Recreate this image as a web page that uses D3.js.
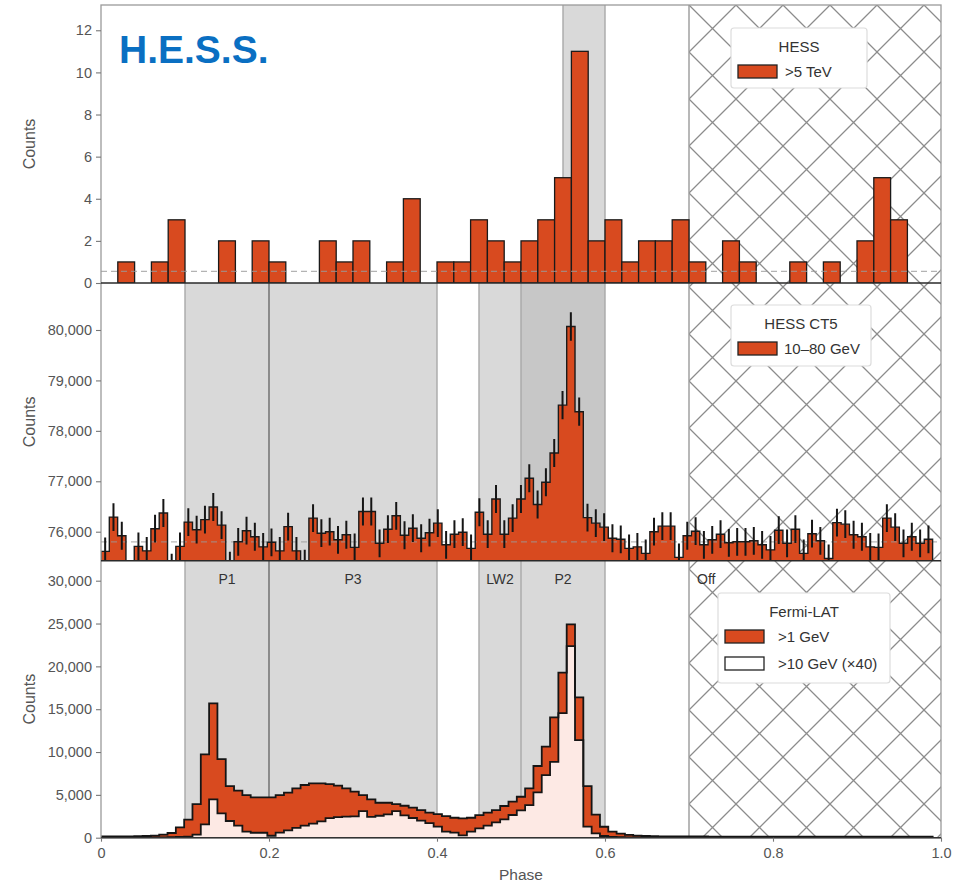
<!DOCTYPE html>
<html>
<head>
<meta charset="utf-8">
<script src="https://cdn.jsdelivr.net/npm/d3@7"></script>
<style>
  body { margin: 0; background: #fff; }
  svg text { font-family: "Liberation Sans", Arial, sans-serif; }
</style>
</head>
<body>
<svg id="chart" width="972" height="882"></svg>
<script>
// ---------------- data ----------------
// H.E.S.S. >5 TeV events, 50 phase bins of 0.02
const hessBinWidth = 0.02;
const hessCounts = [0,1,0,1,3,0,0,2,0,2, 1,0,0,2,1,2,0,1,4,0,
                    1,1,3,2,1,2,3,5,11,2, 3,1,2,2,3,1,0,2,1,0,
                    0,1,0,1,0,2,5,3,0,0];
const hessBackground = 0.55;

// CT5 10-80 GeV and Fermi-LAT, 100 phase bins
const fineBinWidth = 0.0099;
const ct5Counts = [
  75610,76290,75920,75100,75710,75620,76060,76370,75290,75710,
  76190,76040,76240,76490,76130,75330,75800,76020,75900,75700,
  75790,75620,76100,75620,75370,76270,75970,76000,75840,75940,
  75690,76400,76400,75770,76050,76315,75930,76070,75870,75980,
  76170,75740,75950,75990,75670,76385,75950,76650,75950,76270,
  76650,77060,76540,76980,77560,78510,80070,78380,76280,76170,
  76090,75870,75850,75670,75700,75570,76000,76110,76110,75490,
  75920,76010,75740,75840,75950,75780,75800,75800,75820,75740,
  75640,76030,75770,76050,75570,75960,75820,75470,76180,76150,
  75940,75900,75700,75690,76270,76090,75770,75900,75770,75850];
const ct5Background = 75800;

const fermiAbove1GeV = [
  150,140,140,150,170,200,250,350,550,1200,
  2100,3930,9730,15680,9180,6030,5490,4980,4710,4710,
  4710,4980,5250,5760,6150,6340,6340,6260,6070,5760,
  5370,4980,4470,4080,4080,3930,3730,3500,3230,2920,
  2760,2530,2330,2260,2330,2640,2920,3230,3700,4200,
  4780,5760,8370,10630,14050,19260,24900,16380,6030,2700,
  1280,700,470,320,250,200,180,160,150,150,
  140,140,140,130,130,130,130,130,130,130,
  130,130,130,130,130,130,130,130,130,130,
  130,130,130,130,130,130,130,130,130,130];
const fermiAbove10GeVx40 = [
  20,20,20,20,20,30,30,40,50,80,
  120,350,1560,4480,2850,1950,1400,700,580,580,
  230,600,850,1150,1400,1650,1900,2280,2400,2450,
  2500,3100,2420,2560,2730,3100,2600,2300,2000,1700,
  1290,700,590,280,700,1100,1400,1780,2150,2650,
  3200,3800,5300,7300,8850,14550,22370,11400,1300,500,
  200,100,60,40,30,30,20,20,20,20,
  20,20,20,20,20,20,20,20,20,20,
  20,20,20,20,20,20,20,20,20,20,
  20,20,20,20,20,20,20,20,20,20];

// phase windows
const onRegionNames = ["P1", "P3", "LW2", "P2"];
const onRegionStart = [0.1, 0.2, 0.45, 0.5];
const onRegionEnd   = [0.2, 0.4, 0.5, 0.6];
const hessWindow = [0.55, 0.6];
const offRegion = [0.7, 1.0];

// axis ticks
const phaseTicks = [0, 0.2, 0.4, 0.6, 0.8, 1.0];
const hessTicks = [0, 2, 4, 6, 8, 10, 12];
const ct5Ticks = [76000, 77000, 78000, 79000, 80000];
const fermiTicks = [0, 5000, 10000, 15000, 20000, 25000, 30000];

// ---------------- drawing ----------------
const RED = "#d84a1f", PINK = "#fde9e4", GREY = "#d9d9d9", DARKGREY = "#c7c7c7";
const svg = d3.select("#chart");
const x = d3.scaleLinear().domain([0, 1]).range([101, 941]);

const panels = [
  { key: "top", y: d3.scaleLinear().domain([0, 13.2]).range([283, 5]) },
  { key: "mid", y: d3.scaleLinear().domain([75425, 80932]).range([560.7, 283]) },
  { key: "bot", y: d3.scaleLinear().domain([0, 32334]).range([837.7, 560.7]) }
];
const P = Object.fromEntries(panels.map(p => [p.key, p]));
panels.forEach(p => { p.top = p.y.range()[1]; p.bottom = p.y.range()[0]; });

const defs = svg.append("defs");
panels.forEach(p => {
  defs.append("clipPath").attr("id", "clip-" + p.key)
    .append("rect").attr("x", x(0)).attr("y", p.top)
    .attr("width", x(1) - x(0)).attr("height", p.bottom - p.top);
});
const hatch = defs.append("pattern").attr("id", "hatch")
  .attr("patternUnits", "userSpaceOnUse")
  .attr("width", 47).attr("height", 47)
  .attr("x", x(offRegion[0])).attr("y", 5);
hatch.append("path").attr("d", "M0,0L47,47M47,0L0,47M-1,46L1,48M46,-1L48,1")
  .attr("stroke", "#8c8c8c").attr("stroke-width", 1.3).attr("fill", "none");

// shaded on-phase windows
const bg = svg.append("g");
["mid", "bot"].forEach(k => {
  const p = P[k];
  onRegionNames.forEach((n, i) => {
    bg.append("rect")
      .attr("x", x(onRegionStart[i])).attr("width", x(onRegionEnd[i]) - x(onRegionStart[i]))
      .attr("y", p.top).attr("height", p.bottom - p.top)
      .attr("fill", (k === "mid" && n === "P2") ? DARKGREY : GREY);
  });
});
bg.append("rect")
  .attr("x", x(hessWindow[0])).attr("width", x(hessWindow[1]) - x(hessWindow[0]))
  .attr("y", P.top.top).attr("height", P.top.bottom - P.top.top).attr("fill", GREY);

// off-phase hatching across all panels
bg.append("rect")
  .attr("x", x(offRegion[0])).attr("width", x(offRegion[1]) - x(offRegion[0]))
  .attr("y", P.top.top).attr("height", P.bot.bottom - P.top.top)
  .attr("fill", "url(#hatch)");

// window edges
const edges = Array.from(new Set(onRegionStart.concat(onRegionEnd)));
edges.forEach(e => {
  bg.append("line").attr("x1", x(e)).attr("x2", x(e))
    .attr("y1", P.mid.top).attr("y2", P.bot.bottom)
    .attr("stroke", e === 0.2 ? "#6a6a6a" : "#a8a8a8").attr("stroke-width", 1.4);
});
hessWindow.forEach(e => {
  bg.append("line").attr("x1", x(e)).attr("x2", x(e))
    .attr("y1", P.top.top).attr("y2", P.top.bottom)
    .attr("stroke", "#a8a8a8").attr("stroke-width", 1.4);
});
bg.append("line").attr("x1", x(offRegion[0])).attr("x2", x(offRegion[0]))
  .attr("y1", P.top.top).attr("y2", P.bot.bottom)
  .attr("stroke", "#9a9a9a").attr("stroke-width", 1.4);

// ---- top panel: H.E.S.S. >5 TeV bars ----
const gTop = svg.append("g").attr("clip-path", "url(#clip-top)");
gTop.selectAll("rect.bar").data(hessCounts.map((v, i) => ({ v, i })).filter(d => d.v > 0))
  .join("rect").attr("class", "bar")
  .attr("x", d => x(d.i * hessBinWidth)).attr("width", x(hessBinWidth) - x(0))
  .attr("y", d => P.top.y(d.v)).attr("height", d => P.top.y(0) - P.top.y(d.v))
  .attr("fill", RED).attr("stroke", "#1a1a1a").attr("stroke-width", 1.3);
gTop.append("line")
  .attr("x1", x(0)).attr("x2", x(1))
  .attr("y1", P.top.y(hessBackground)).attr("y2", P.top.y(hessBackground))
  .attr("stroke", "#9a9a9a").attr("stroke-opacity", 0.75)
  .attr("stroke-width", 1.4).attr("stroke-dasharray", "6,4");

// step helpers
function stepData(arr) {
  const d = arr.map((v, i) => ({ e: i * fineBinWidth, v }));
  d.push({ e: arr.length * fineBinWidth, v: arr[arr.length - 1] });
  return d;
}
function stepArea(p) {
  return d3.area().curve(d3.curveStepAfter)
    .x(d => x(d.e)).y0(p.bottom + 2).y1(d => p.y(d.v));
}
function stepOutline(p, arr) {
  const d = stepData(arr);
  const line = d3.line().curve(d3.curveStepAfter).x(q => x(q.e)).y(q => p.y(q.v));
  const last = d[d.length - 1];
  return "M" + x(0) + "," + (p.bottom + 2) + "L" + line(d).slice(1) + "L" + x(last.e) + "," + (p.bottom + 2);
}

// ---- middle panel: CT5 10-80 GeV ----
const gMid = svg.append("g").attr("clip-path", "url(#clip-mid)");
gMid.append("path").datum(stepData(ct5Counts)).attr("d", stepArea(P.mid)).attr("fill", RED);
gMid.append("line")
  .attr("x1", x(0)).attr("x2", x(1))
  .attr("y1", P.mid.y(ct5Background)).attr("y2", P.mid.y(ct5Background))
  .attr("stroke", "#9a9a9a").attr("stroke-opacity", 0.7)
  .attr("stroke-width", 1.2).attr("stroke-dasharray", "6,4");
gMid.append("path").attr("d", stepOutline(P.mid, ct5Counts))
  .attr("fill", "none").attr("stroke", "#1a1a1a").attr("stroke-width", 1.4);
gMid.selectAll("line.err").data(ct5Counts.map((v, i) => ({ v, i })))
  .join("line").attr("class", "err")
  .attr("x1", d => x((d.i + 0.5) * fineBinWidth)).attr("x2", d => x((d.i + 0.5) * fineBinWidth))
  .attr("y1", d => P.mid.y(d.v - Math.sqrt(d.v))).attr("y2", d => P.mid.y(d.v + Math.sqrt(d.v)))
  .attr("stroke", "#151515").attr("stroke-width", 2);

// ---- bottom panel: Fermi-LAT ----
const gBot = svg.append("g").attr("clip-path", "url(#clip-bot)");
gBot.append("path").datum(stepData(fermiAbove1GeV)).attr("d", stepArea(P.bot)).attr("fill", RED);
gBot.append("path").datum(stepData(fermiAbove10GeVx40)).attr("d", stepArea(P.bot)).attr("fill", PINK);
gBot.append("path").attr("d", stepOutline(P.bot, fermiAbove1GeV))
  .attr("fill", "none").attr("stroke", "#151515").attr("stroke-width", 1.8);
gBot.append("path").attr("d", stepOutline(P.bot, fermiAbove10GeVx40))
  .attr("fill", "none").attr("stroke", "#151515").attr("stroke-width", 1.8);

// ---- frame and axes ----
const frame = svg.append("g");
frame.append("rect").attr("x", x(0)).attr("y", P.top.top)
  .attr("width", x(1) - x(0)).attr("height", P.bot.bottom - P.top.top)
  .attr("fill", "none").attr("stroke", "#9a9a9a").attr("stroke-width", 1.3);
[P.top.bottom, P.mid.bottom].forEach(yy => {
  frame.append("line").attr("x1", x(0)).attr("x2", x(1)).attr("y1", yy).attr("y2", yy)
    .attr("stroke", "#2a2a2a").attr("stroke-width", 1.5);
});
frame.append("line").attr("x1", x(0)).attr("x2", x(1))
  .attr("y1", P.bot.bottom).attr("y2", P.bot.bottom)
  .attr("stroke", "#333").attr("stroke-width", 1.5);

function styleAxis(g) {
  g.select(".domain").remove();
  g.selectAll(".tick line").attr("stroke", "#777").attr("stroke-width", 1.1);
  g.selectAll(".tick text").attr("fill", "#555").attr("font-size", 14.5);
}
const fmt = d3.format(",");
svg.append("g").attr("transform", `translate(${x(0)},0)`)
  .call(d3.axisLeft(P.top.y).tickValues(hessTicks).tickSize(5).tickPadding(4).tickFormat(fmt)).call(styleAxis);
svg.append("g").attr("transform", `translate(${x(0)},0)`)
  .call(d3.axisLeft(P.mid.y).tickValues(ct5Ticks).tickSize(5).tickPadding(4).tickFormat(fmt)).call(styleAxis);
svg.append("g").attr("transform", `translate(${x(0)},0)`)
  .call(d3.axisLeft(P.bot.y).tickValues(fermiTicks).tickSize(5).tickPadding(4).tickFormat(fmt)).call(styleAxis);
svg.append("g").attr("transform", `translate(0,${P.bot.bottom})`)
  .call(d3.axisBottom(x).tickValues(phaseTicks).tickSize(4).tickPadding(6)
    .tickFormat(d => d === 0 ? "0" : d3.format(".1f")(d))).call(styleAxis);

// axis titles
panels.forEach(p => {
  svg.append("text")
    .attr("transform", `translate(35,${(p.top + p.bottom) / 2}) rotate(-90)`)
    .attr("text-anchor", "middle").attr("fill", "#555").attr("font-size", 16)
    .text("Counts");
});
svg.append("text").attr("x", (x(0) + x(1)) / 2).attr("y", 880)
  .attr("text-anchor", "middle").attr("fill", "#555").attr("font-size", 15.5).text("Phase");

// window labels
onRegionNames.forEach((n, i) => {
  svg.append("text").attr("x", x((onRegionStart[i] + onRegionEnd[i]) / 2)).attr("y", 584)
    .attr("text-anchor", "middle").attr("fill", "#333").attr("font-size", 14).text(n);
});
svg.append("text").attr("x", x(offRegion[0]) + 8).attr("y", 584)
  .attr("fill", "#333").attr("font-size", 14).text("Off");

// ---- legends ----
function legend(box, title, entries) {
  const g = svg.append("g");
  g.append("rect").attr("x", box.x).attr("y", box.y).attr("width", box.w).attr("height", box.h)
    .attr("rx", 3).attr("fill", "#fff").attr("stroke", "#dcdcdc").attr("stroke-width", 1.2);
  g.append("text").attr("x", box.x + box.w / 2).attr("y", box.y + 24)
    .attr("text-anchor", "middle").attr("fill", "#333").attr("font-size", 15).text(title);
  entries.forEach((e, i) => {
    const yy = box.y + 37 + i * 27;
    g.append("rect").attr("x", box.x + 7).attr("y", yy).attr("width", 39).attr("height", 13)
      .attr("fill", e.fill).attr("stroke", "#222").attr("stroke-width", 1.3);
    g.append("text").attr("x", box.x + e.tx).attr("y", yy + 12)
      .attr("fill", "#333").attr("font-size", 15).text(e.label);
  });
}
legend({ x: 731, y: 28, w: 136, h: 60 }, "HESS", [{ fill: RED, label: ">5 TeV", tx: 54 }]);
legend({ x: 731, y: 305, w: 140, h: 61 }, "HESS CT5", [{ fill: RED, label: "10\u201380 GeV", tx: 53 }]);
legend({ x: 718, y: 593, w: 172, h: 90 }, "Fermi-LAT", [
  { fill: RED, label: ">1 GeV", tx: 60 },
  { fill: "#fff", label: ">10 GeV (\u00d740)", tx: 60 }
]);

// experiment tag
svg.append("text").attr("x", 119).attr("y", 63)
  .attr("font-family", "'Open Sans', sans-serif").attr("font-weight", 700)
  .attr("font-size", 39).attr("fill", "#0a6fc2").text("H.E.S.S.");
</script>
</body>
</html>
